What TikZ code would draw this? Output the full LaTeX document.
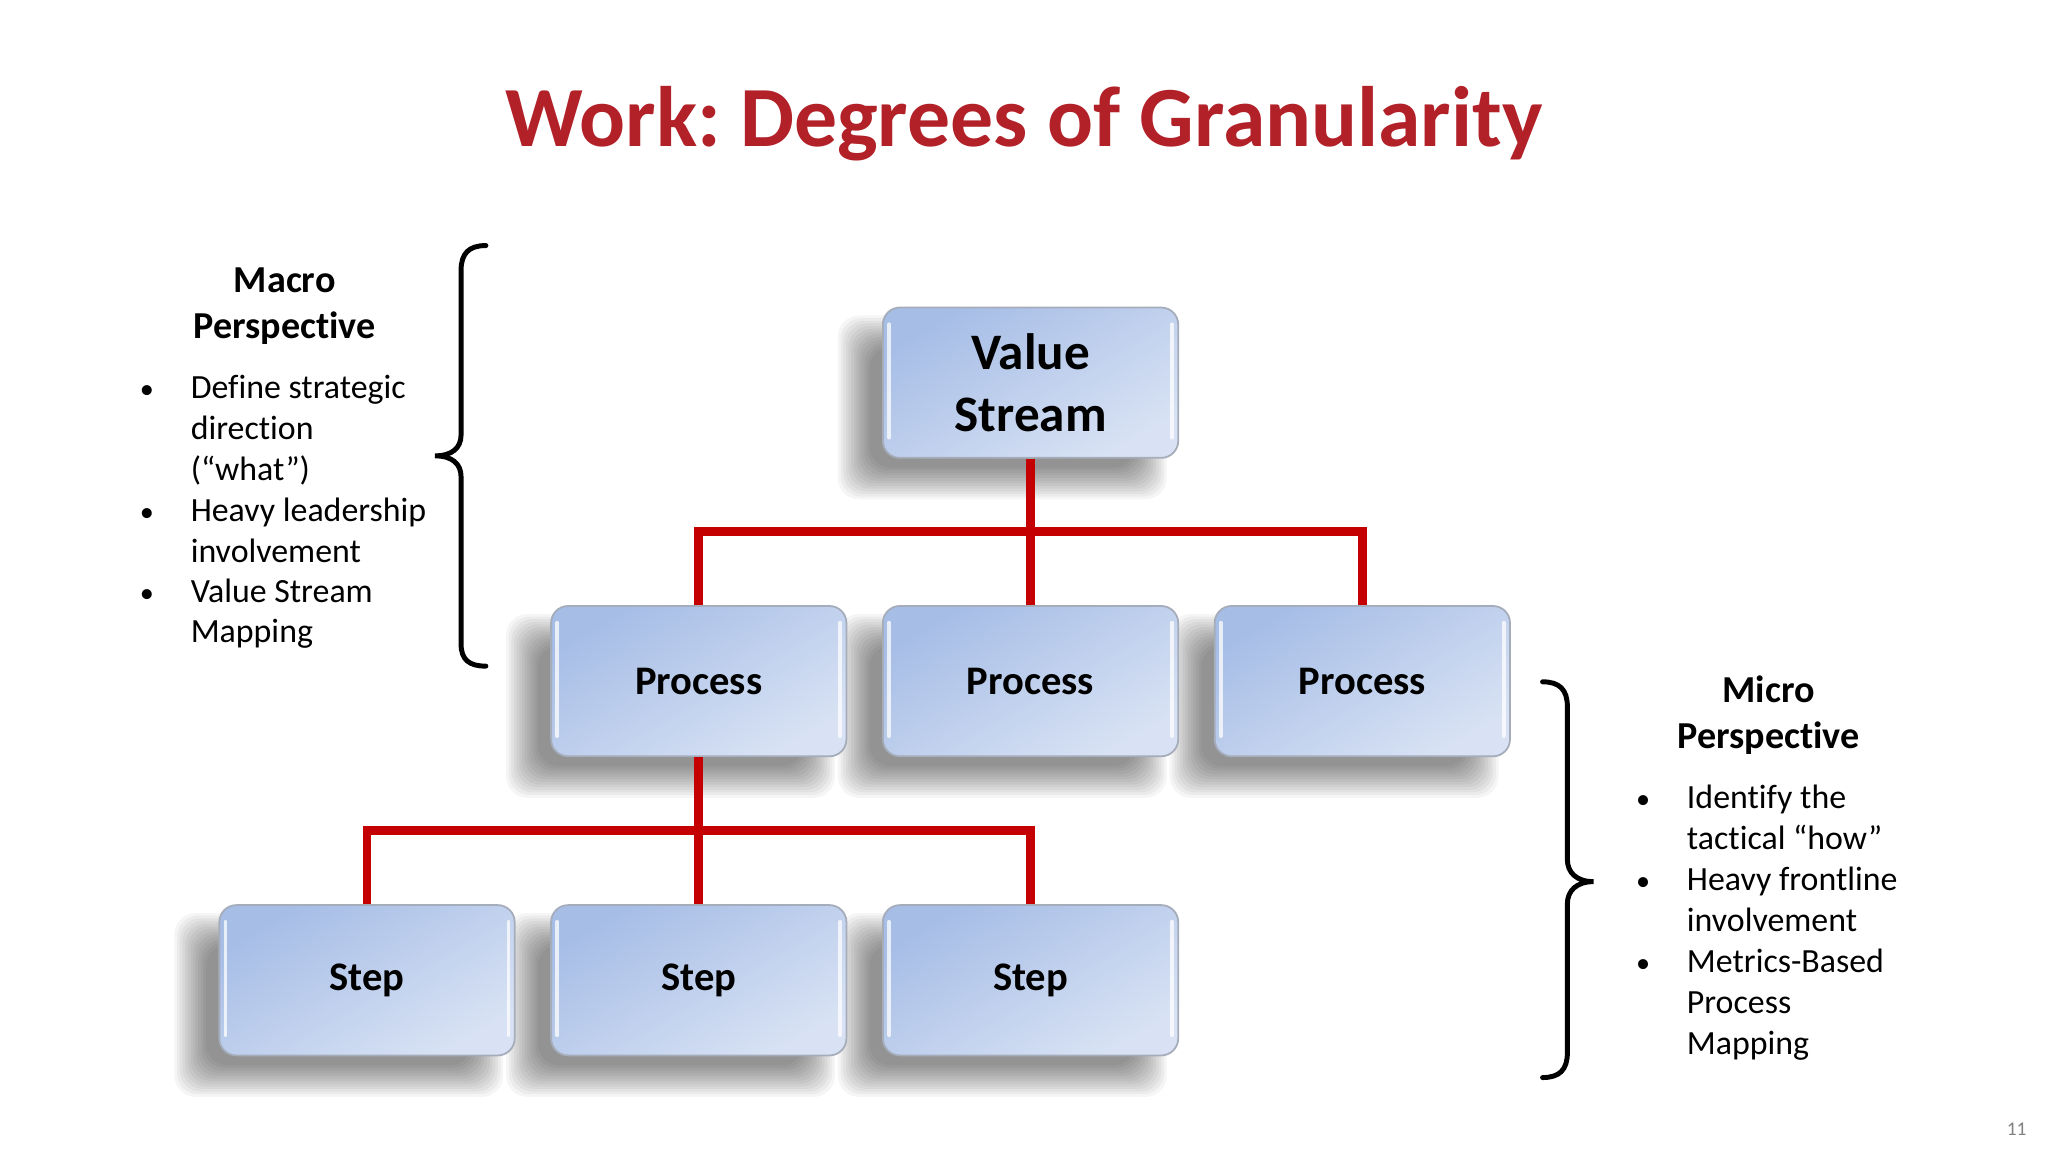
\documentclass[tikz,border=0pt]{standalone}
\usepackage{fontspec}
\setmainfont{Carlito}[Ligatures={NoCommon}]
\usetikzlibrary{backgrounds}
\definecolor{titlered}{RGB}{178,32,40}
\definecolor{linered}{RGB}{196,0,0}
\definecolor{boxtop}{RGB}{166,189,230}
\definecolor{boxbot}{RGB}{216,226,244}
\definecolor{boxedge}{RGB}{165,172,186}
\frenchspacing
\tikzset{
 box/.style={rectangle, rounded corners=4.8pt, minimum width=83.7pt, minimum height=42.6pt,
   draw=boxedge, line width=0.5pt, top color=boxtop, bottom color=boxbot, shading angle=30,
   font=\bfseries\fontsize{11.5}{14}\selectfont, inner sep=0pt},
 link/.style={draw=linered, line width=2.5pt},
 bracestyle/.style={draw=black, line width=1.4pt, line cap=round},
 heading/.style={font=\bfseries\fontsize{10.8}{13}\selectfont, anchor=base, inner sep=0pt},
 bullettext/.style={font=\fontsize{9.6}{11.6}\selectfont, anchor=base west, inner sep=0pt},
 bulletmark/.style={font=\fontsize{8}{10}\selectfont, anchor=base, inner sep=0pt},
 highlight/.style={draw=white, line width=1.1pt, line cap=round, opacity=0.75},
 shadowlayer/.style={fill=black, opacity=0.04, rounded corners=6pt},
}
\begin{document}
\begin{tikzpicture}[x=0.3702pt, y=-0.3702pt]
\useasboundingbox (0,0) rectangle (1568,882);

% title
\node[font=\bfseries\fontsize{24.3}{28}\selectfont, text=titlered, anchor=base, inner sep=0pt] (title) at (784,112.5) {Work: Degrees of Granularity};

% boxes
\node[box, font=\bfseries\fontsize{14.5}{17.6}\selectfont, align=center] (vs) at (789,293) {Value\\Stream};
\node[box] (p1) at (535,521.5) {Process};
\node[box] (p2) at (789,521.5) {Process};
\node[box] (p3) at (1043,521.5) {Process};
\node[box] (s1) at (281,750.5) {Step};
\node[box] (s2) at (535,750.5) {Step};
\node[box] (s3) at (789,750.5) {Step};

\foreach \n in {vs,p1,p2,p3,s1,s2,s3}{
  \draw[highlight] ([xshift=2pt,yshift=-5pt]\n.north west) -- ([xshift=2pt,yshift=6pt]\n.south west);
  \draw[highlight] ([xshift=-2pt,yshift=-5pt]\n.north east) -- ([xshift=-2pt,yshift=6pt]\n.south east);
}

% soft shadows
\begin{scope}[on background layer]
\fill[white] (0,0) rectangle (1568,882);
\foreach \n in {vs,p1,p2,p3,s1,s2,s3}{
  \foreach \k in {0,...,12}{
    \pgfmathsetmacro{\e}{0.75*\k}
    \fill[shadowlayer] ([xshift={(-3.5-\e)*1pt}, yshift={(-2.5-\e)*1pt}]\n.south west)
       rectangle ([xshift={(-12.5+\e)*1pt}, yshift={(-11.5+\e)*1pt}]\n.north east);
  }
}
\end{scope}

% connectors
\coordinate (bus1) at (789,407);
\coordinate (bus2) at (535,636);
\draw[link] (vs.south) -- (bus1);
\draw[link] (p1.north) -- (p1.north |- bus1) -- (p3.north |- bus1) -- (p3.north);
\draw[link] (bus1) -- (p2.north);
\draw[link] (p1.south) -- (bus2);
\draw[link] (s1.north) -- (s1.north |- bus2) -- (s3.north |- bus2) -- (s3.north);
\draw[link] (bus2) -- (s2.north);

% braces
\draw[bracestyle] (372,188) .. controls (359,188) and (353,194) .. (353,207) -- (353,333)
  .. controls (353,343) and (346,349) .. (333,349)
  .. controls (346,349) and (353,355) .. (353,365) -- (353,493)
  .. controls (353,505) and (359,510) .. (372,510);
\draw[bracestyle] (1181,522) .. controls (1194,522) and (1200,528) .. (1200,541) -- (1200,658)
  .. controls (1200,668) and (1207,675) .. (1220,675)
  .. controls (1207,675) and (1200,682) .. (1200,692) -- (1200,806)
  .. controls (1200,819) and (1194,825) .. (1181,825);

% macro text
\node[heading] (mac1) at (218,224) {Macro};
\node[heading] (mac2) at (218,259) {Perspective};
\node[bulletmark] (mb1) at (112.5,305) {•};
\node[bulletmark] (mb2) at (112.5,399.5) {•};
\node[bulletmark] (mb3) at (112.5,461.5) {•};
\node[bullettext] (mt1) at (145.5,305) {Define strategic};
\node[bullettext] (mt2) at (145.5,336.3) {direction};
\node[bullettext] (mt3) at (145.5,367.6) {(“what”)};
\node[bullettext] (mt4) at (145.5,399.5) {Heavy leadership};
\node[bullettext] (mt5) at (145.5,430.5) {involvement};
\node[bullettext] (mt6) at (145.5,461.5) {Value Stream};
\node[bullettext] (mt7) at (145.5,492) {Mapping};

% micro text
\node[heading] (mic1) at (1354,538) {Micro};
\node[heading] (mic2) at (1354,573) {Perspective};
\node[bulletmark] (nb1) at (1258,619) {•};
\node[bulletmark] (nb2) at (1258,682) {•};
\node[bulletmark] (nb3) at (1258,744.5) {•};
\node[bullettext] (nt1) at (1291,619) {Identify the};
\node[bullettext] (nt2) at (1291,650.5) {tactical “how”};
\node[bullettext] (nt3) at (1291,682) {Heavy frontline};
\node[bullettext] (nt4) at (1291,713) {involvement};
\node[bullettext] (nt5) at (1291,744.5) {Metrics-Based};
\node[bullettext] (nt6) at (1291,776) {Process};
\node[bullettext] (nt7) at (1291,807) {Mapping};

% page number
\node[font=\fontsize{5.5}{6}\selectfont, text=gray, anchor=base, inner sep=0pt] (pg) at (1544,869) {11};
\end{tikzpicture}
\end{document}
